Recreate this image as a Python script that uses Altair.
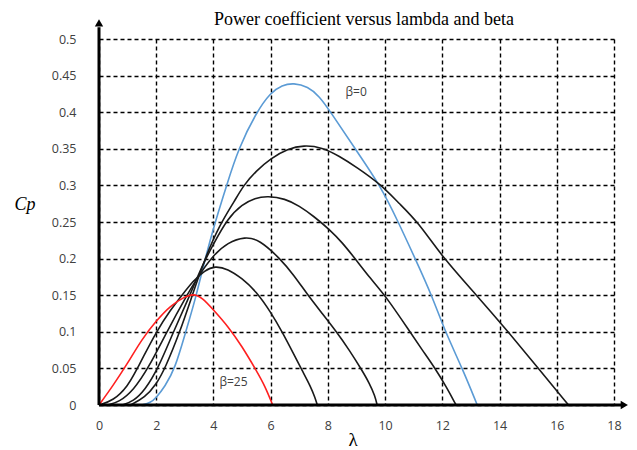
import altair as alt
import pandas as pd

# ---- data ----
lam_b0 = [1.5, 1.8, 2.0, 2.3, 2.66, 3.03, 3.36, 3.71, 4.06, 4.46, 4.87, 5.5, 6.0, 6.4, 6.8, 7.3, 7.7, 8.1, 8.95, 9.83, 10.46, 11.05, 11.63, 12.1, 12.7, 13.22]
cp_b0 = [0.0, 0.003, 0.01, 0.025, 0.05, 0.1, 0.143, 0.2, 0.25, 0.3, 0.35, 0.4, 0.427, 0.437, 0.44, 0.435, 0.422, 0.4, 0.35, 0.3, 0.25, 0.2, 0.15, 0.1, 0.05, 0.0]

lam_b5 = [1.1, 1.6, 2.0, 2.31, 2.83, 3.26, 3.7, 4.2, 4.76, 5.05, 5.5, 6.0, 6.6, 7.15, 7.8, 8.4, 9.0, 9.83, 10.5, 11.15, 12.04, 13.2, 14.3, 15.36, 16.41]
cp_b5 = [0.0, 0.01, 0.028, 0.05, 0.1, 0.15, 0.2, 0.245, 0.28, 0.3, 0.32, 0.337, 0.35, 0.355, 0.352, 0.34, 0.325, 0.302, 0.275, 0.25, 0.2, 0.15, 0.1, 0.05, 0.0]

lam_b10 = [0.8, 1.2, 1.6, 2.07, 2.6, 3.18, 3.6, 4.0, 4.5, 5.0, 5.45, 5.9, 6.5, 7.0, 7.5, 8.08, 8.5, 8.95, 9.5, 10.0, 10.87, 11.3, 11.75, 12.15, 12.48]
cp_b10 = [0.0, 0.005, 0.02, 0.05, 0.1, 0.15, 0.19, 0.22, 0.255, 0.274, 0.283, 0.2855, 0.282, 0.272, 0.258, 0.239, 0.222, 0.2, 0.172, 0.15, 0.1, 0.075, 0.05, 0.024, 0.0]

lam_b15 = [0.3, 0.7, 1.2, 1.72, 2.37, 3.07, 3.5, 4.0, 4.5, 5.1, 5.6, 6.33, 6.8, 7.3, 7.8, 8.3, 8.75, 9.15, 9.45, 9.65, 9.72]
cp_b15 = [0.0, 0.004, 0.02, 0.05, 0.1, 0.15, 0.178, 0.205, 0.222, 0.23, 0.226, 0.2, 0.178, 0.15, 0.125, 0.1, 0.075, 0.05, 0.03, 0.012, 0.0]

lam_b20 = [0.0, 0.5, 1.0, 1.34, 1.5, 2.0, 2.5, 2.9, 3.3, 3.7, 4.05, 4.5, 5.0, 5.5, 6.0, 6.4, 6.8, 7.1, 7.4, 7.55, 7.63]
cp_b20 = [0.0, 0.006, 0.025, 0.05, 0.062, 0.1, 0.13, 0.15, 0.17, 0.184, 0.19, 0.186, 0.173, 0.155, 0.127, 0.1, 0.07, 0.047, 0.025, 0.01, 0.0]

lam_b25 = [0.0, 0.5, 1.0, 1.5, 2.0, 2.5, 3.0, 3.3, 3.6, 4.0, 4.5, 5.0, 5.5, 5.8, 6.07]
cp_b25 = [0.0, 0.027, 0.057, 0.09, 0.115, 0.136, 0.148, 0.152, 0.147, 0.13, 0.108, 0.08, 0.047, 0.026, 0.0]

series_names = ["b0", "b5", "b10", "b15", "b20", "b25"]
series_colors = ["#5B9BD5", "#1a1a1a", "#1a1a1a", "#1a1a1a", "#1a1a1a", "#FF2020"]

x_ticks = [0, 2, 4, 6, 8, 10, 12, 14, 16, 18]
y_ticks = [0, 0.05, 0.1, 0.15, 0.2, 0.25, 0.3, 0.35, 0.4, 0.45, 0.5]

title_text = "Power coefficient versus lambda and beta"
x_title = "λ"
y_title = "Cp"

ann_text = ["β=0", "β=25"]
ann_lam = [8.99, 4.70]
ann_cp = [0.428, 0.032]

# ---- build table ----
rows = []
for name, lams, cps in zip(series_names,
                           [lam_b0, lam_b5, lam_b10, lam_b15, lam_b20, lam_b25],
                           [cp_b0, cp_b5, cp_b10, cp_b15, cp_b20, cp_b25]):
    for i, (l, c) in enumerate(zip(lams, cps)):
        rows.append({"series": name, "lam": l, "cp": c, "i": i})
df = pd.DataFrame(rows)

W, H = 515, 366
xs = alt.Scale(domain=[0, 18], nice=False, zero=False)
ys = alt.Scale(domain=[0, 0.5], nice=False, zero=False)

label_font = "Open Sans"
label_color = "#404040"

xaxis = alt.Axis(values=x_ticks, grid=True, gridDash=[4, 3], gridColor="black",
                 gridWidth=1.4, gridOpacity=1, domain=False, ticks=False,
                 labelFont=label_font, labelFontSize=12.5, labelColor=label_color,
                 labelPadding=14, labelFlush=False, title=None)
yaxis = alt.Axis(values=y_ticks, grid=True, gridDash=[4, 3], gridColor="black",
                 gridWidth=1.4, gridOpacity=1, domain=False, ticks=False,
                 labelFont=label_font, labelFontSize=12.5, labelColor=label_color,
                 labelPadding=23, labelFlush=False, format="~g", title=None)


def X(field):
    return alt.X(field, scale=xs, axis=xaxis)


def Y(field):
    return alt.Y(field, scale=ys, axis=yaxis)


curves = alt.Chart(df).mark_line(strokeWidth=1.6, interpolate="basis").encode(
    x=X("lam:Q"),
    y=Y("cp:Q"),
    color=alt.Color("series:N", scale=alt.Scale(domain=series_names, range=series_colors), legend=None),
    detail="series:N",
    order="i:Q",
)

# axis lines with arrows
axis_df = pd.DataFrame({"lam": [0.0, 0.0], "cp": [0.0, 0.0], "lam2": [18.3, 0.0], "cp2": [0.0, 0.516]})
axis_lines = alt.Chart(axis_df).mark_rule(color="black", strokeWidth=3).encode(
    x=X("lam:Q"), y=Y("cp:Q"), x2="lam2:Q", y2="cp2:Q")

arrow_df = pd.DataFrame({"lam": [18.36, 0.0], "cp": [0.0, 0.522], "shape": ["triangle-right", "triangle-up"]})
arrows = alt.Chart(arrow_df).mark_point(filled=True, color="black", opacity=1, size=70).encode(
    x=X("lam:Q"), y=Y("cp:Q"),
    shape=alt.Shape("shape:N", scale=None, legend=None))

ann_df = pd.DataFrame({"t": ann_text, "lam": ann_lam, "cp": ann_cp})
anns = alt.Chart(ann_df).mark_text(font=label_font, fontSize=12, color="#404040").encode(
    x=X("lam:Q"), y=Y("cp:Q"), text="t:N")

title_mark = alt.Chart(pd.DataFrame({"t": [title_text]})).mark_text(
    font="Liberation Serif", fontSize=18, color="black", baseline="alphabetic", align="center"
).encode(text="t:N", x=alt.value(265), y=alt.value(-14))

ytitle_mark = alt.Chart(pd.DataFrame({"t": [y_title]})).mark_text(
    font="Liberation Serif", fontSize=18, fontStyle="italic", color="black", baseline="middle", align="center"
).encode(text="t:N", x=alt.value(-74), y=alt.value(166))

xtitle_mark = alt.Chart(pd.DataFrame({"t": [x_title]})).mark_text(
    font="Liberation Serif", fontSize=19, color="black", baseline="middle", align="center"
).encode(text="t:N", x=alt.value(254), y=alt.value(401))

chart = alt.layer(curves, axis_lines, arrows, anns, title_mark, ytitle_mark, xtitle_mark).properties(
    width=W, height=H,
    autosize=alt.AutoSizeParams(type="none"),
    padding={"left": 99, "top": 39, "right": 23, "bottom": 45},
    background="white",
).configure_view(stroke=None)

chart.save("out.html", embed_options={"renderer": "svg", "actions": False})
